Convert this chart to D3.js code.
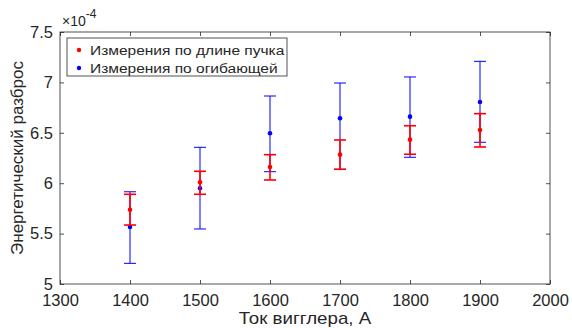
<!DOCTYPE html>
<html>
<head>
<meta charset="utf-8">
<script src="https://cdn.jsdelivr.net/npm/d3@7"></script>
<style>
  body { margin: 0; background: #fff; }
  svg { display: block; font-family: "Liberation Sans", Arial, sans-serif; }
</style>
</head>
<body>
<div id="app"></div>
<script>
const width = 572;
const height = 328;
const margin = { top: 32, right: 22, bottom: 44, left: 60 };

// ток вигглера, А
const currents = [1400, 1500, 1600, 1700, 1800, 1900];
// измерения по длине пучка (x1e-4)
const lengthValues = [5.737, 6.009, 6.16, 6.283, 6.432, 6.528];
const lengthLow = [5.585, 5.89, 6.032, 6.138, 6.287, 6.359];
const lengthHigh = [5.89, 6.118, 6.283, 6.429, 6.57, 6.69];
// измерения по огибающей (x1e-4)
const envValues = [5.565, 5.95, 6.495, 6.644, 6.66, 6.806];
const envLow = [5.205, 5.546, 6.114, 6.138, 6.257, 6.406];
const envHigh = [5.915, 6.356, 6.865, 6.994, 7.054, 7.209];

const xTicks = [1300, 1400, 1500, 1600, 1700, 1800, 1900, 2000];
const yTicks = [5, 5.5, 6, 6.5, 7, 7.5];

const series = [
  { label: "Измерения по огибающей", color: "#0000ff", width: 1.0, values: envValues, low: envLow, high: envHigh },
  { label: "Измерения по длине пучка", color: "#ff0000", width: 1.6, values: lengthValues, low: lengthLow, high: lengthHigh },
];

const x = d3.scaleLinear().domain([1300, 2000]).range([margin.left, width - margin.right]);
const y = d3.scaleLinear().domain([5, 7.5]).range([height - margin.bottom, margin.top]);

const svg = d3.select("#app").append("svg").attr("width", width).attr("height", height);

const axisColor = "#262626";
const tickLen = 4;

// frame
svg.append("rect")
  .attr("x", margin.left).attr("y", margin.top)
  .attr("width", x(2000) - x(1300)).attr("height", y(5) - y(7.5))
  .attr("fill", "none").attr("stroke", axisColor).attr("stroke-width", 0.8);

const xAxis = svg.append("g")
  .attr("transform", `translate(0, ${y(5)})`)
  .call(d3.axisBottom(x).tickValues(xTicks).tickFormat(d3.format("d")).tickSizeInner(-tickLen).tickSizeOuter(0).tickPadding(10));
const xAxisTop = svg.append("g")
  .attr("transform", `translate(0, ${y(7.5)})`)
  .call(d3.axisTop(x).tickValues(xTicks).tickFormat("").tickSizeInner(-tickLen).tickSizeOuter(0));
const yAxis = svg.append("g")
  .attr("transform", `translate(${x(1300)}, 0)`)
  .call(d3.axisLeft(y).tickValues(yTicks).tickFormat(d3.format("~g")).tickSizeInner(-tickLen).tickSizeOuter(0).tickPadding(7));
const yAxisRight = svg.append("g")
  .attr("transform", `translate(${x(2000)}, 0)`)
  .call(d3.axisRight(y).tickValues(yTicks).tickFormat("").tickSizeInner(-tickLen).tickSizeOuter(0));

[xAxis, xAxisTop, yAxis, yAxisRight].forEach((g) => {
  g.select(".domain").remove();
  g.selectAll("line").attr("stroke", axisColor).attr("stroke-width", 0.8);
  g.selectAll("text").attr("fill", axisColor).style("font-size", "16.5px").style("font-family", "Liberation Sans, Arial, sans-serif");
});

// exponent label
const expo = svg.append("text")
  .attr("x", margin.left + 2).attr("y", margin.top - 6)
  .attr("fill", axisColor).style("font-size", "14px");
expo.append("tspan").text("×10");
expo.append("tspan").attr("dy", -8).style("font-size", "12px").text("-4");

// axis labels
svg.append("text")
  .attr("transform", `translate(${(x(1300) + x(2000)) / 2}, ${height - 4}) scale(1.17, 1)`)
  .attr("text-anchor", "middle").attr("fill", axisColor)
  .style("font-size", "16px").text("Ток вигглера, А");

svg.append("text")
  .attr("transform", `translate(23, ${(y(5) + y(7.5)) / 2}) rotate(-90)`)
  .attr("text-anchor", "middle").attr("fill", axisColor)
  .style("font-size", "17px").text("Энергетический разброс");

// error bars
const cap = 6;
series.forEach((s) => {
  const g = svg.append("g");
  currents.forEach((c, i) => {
    const cx = x(c);
    g.append("line").attr("x1", cx).attr("x2", cx).attr("y1", y(s.low[i])).attr("y2", y(s.high[i]))
      .attr("stroke", s.color).attr("stroke-width", s.width);
    [s.low[i], s.high[i]].forEach((v) => {
      g.append("line").attr("x1", cx - cap).attr("x2", cx + cap).attr("y1", y(v)).attr("y2", y(v))
        .attr("stroke", s.color).attr("stroke-width", s.width);
    });
    g.append("circle").attr("cx", cx).attr("cy", y(s.values[i])).attr("r", 2.3).attr("fill", s.color);
  });
});

// legend
const legend = svg.append("g").attr("transform", `translate(67, 38)`);
legend.append("rect").attr("width", 220).attr("height", 38)
  .attr("fill", "#fff").attr("stroke", axisColor).attr("stroke-width", 0.8);
const legendItems = [series[1], series[0]];
legendItems.forEach((s, i) => {
  const row = legend.append("g").attr("transform", `translate(0, ${12 + i * 18})`);
  row.append("circle").attr("cx", 12).attr("cy", 0).attr("r", 2.2).attr("fill", s.color);
  row.append("text").attr("transform", "translate(23, 5) scale(1.15, 1)").attr("fill", axisColor)
    .style("font-size", "13.5px").text(s.label);
});
</script>
</body>
</html>
